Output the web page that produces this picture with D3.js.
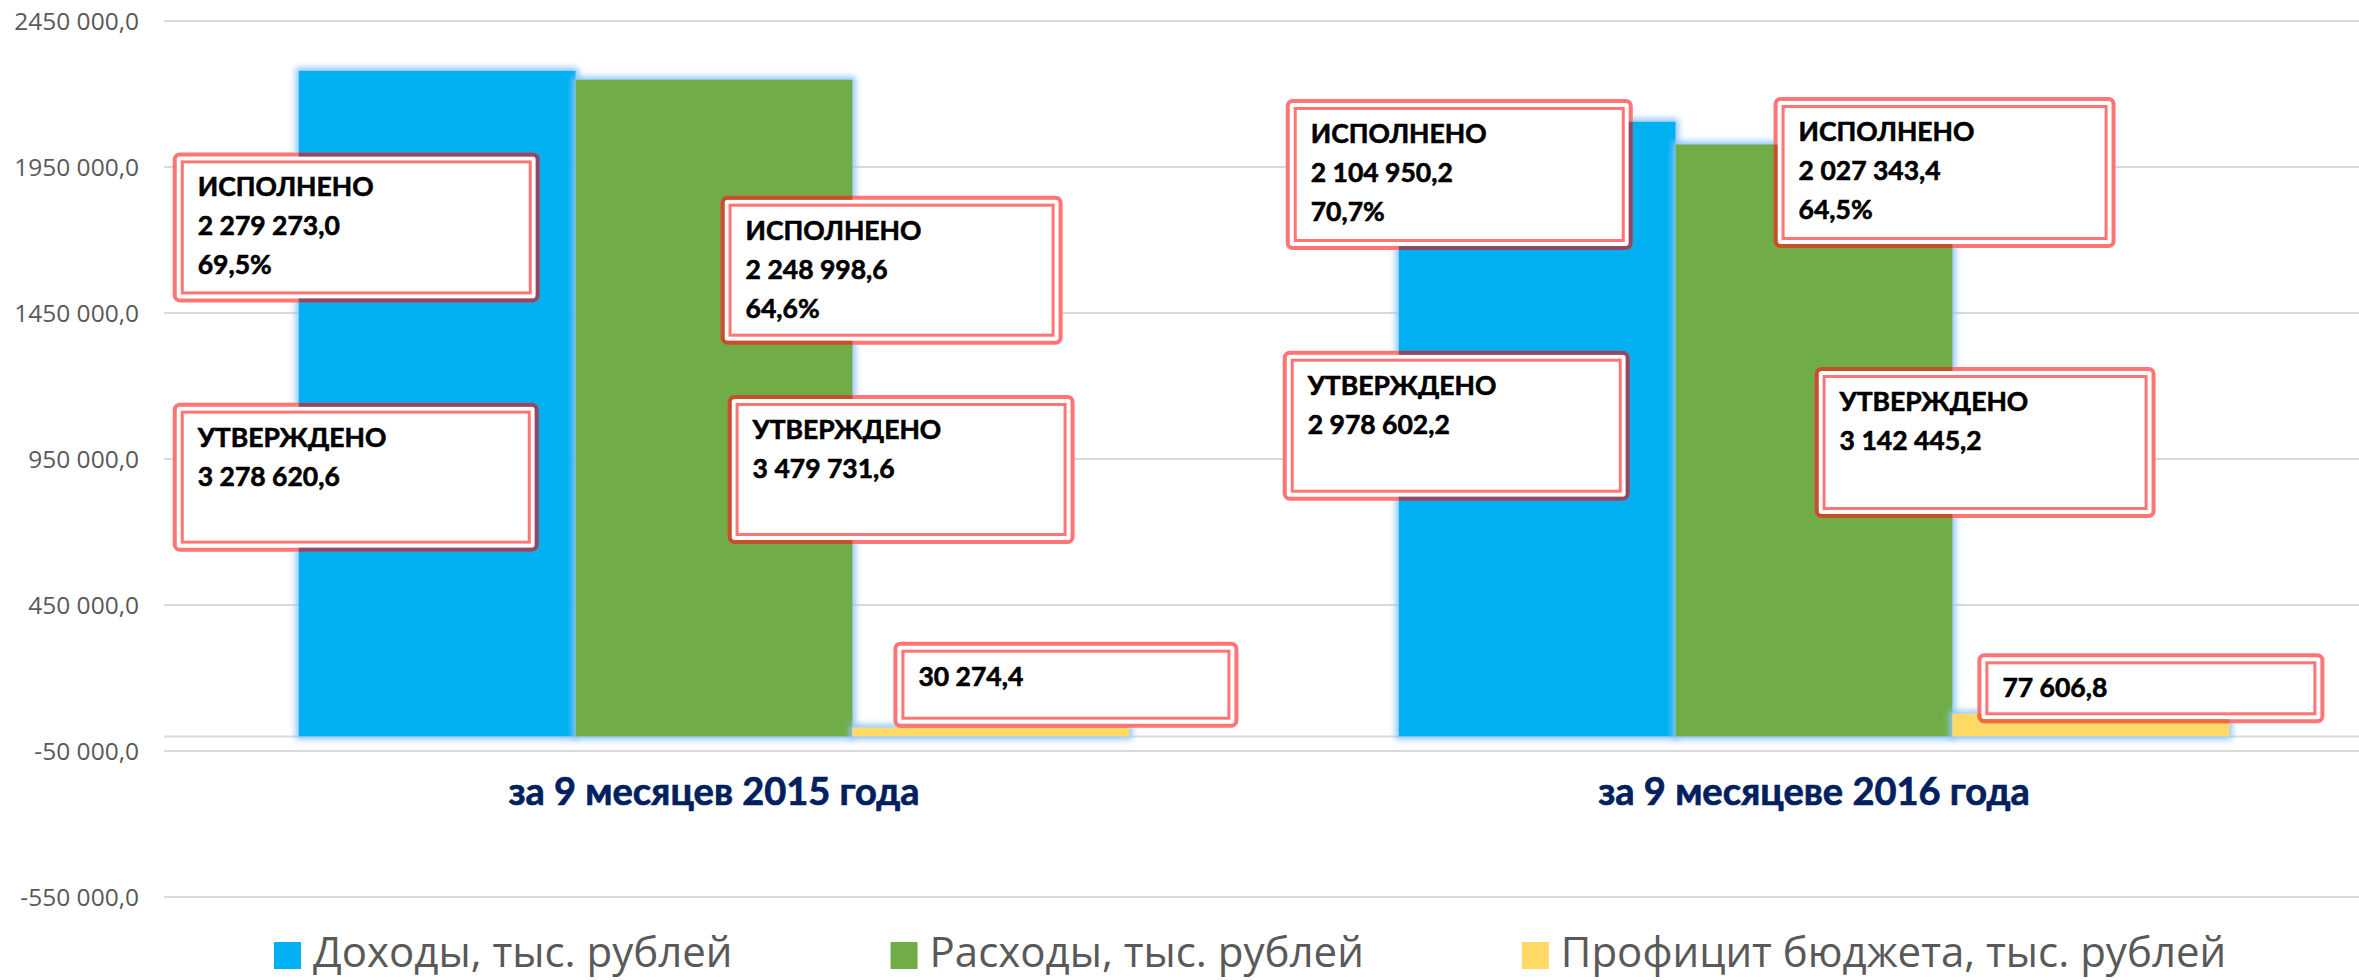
<!DOCTYPE html>
<html>
<head>
<meta charset="utf-8">
<script src="https://cdn.jsdelivr.net/npm/d3@7"></script>
<style>
  body { margin: 0; background: #fff; }
</style>
</head>
<body>
<svg id="chart"></svg>
<script>
// chart data
const categories = ["за 9 месяцев 2015 года", "за 9 месяцеве 2016 года"];
const seriesNames = ["Доходы, тыс. рублей", "Расходы, тыс. рублей", "Профицит бюджета, тыс. рублей"];
const income = [2279273.0, 2104950.2];
const expense = [2248998.6, 2027343.4];
const surplus = [30274.4, 77606.8];
const incomePlan = [3278620.6, 2978602.2];
const expensePlan = [3479731.6, 3142445.2];
const yTicks = [-550000, -50000, 450000, 950000, 1450000, 1950000, 2450000];

const WIDTH = 2359, HEIGHT = 980;
const colors = ["#00B0F0", "#70AD47", "#FFD966"];
const darkEdge = ["#8C4A6A", "#C4502C", "#F06A3A"];

// callout placement: series, category, kind, offset from bar left, top (in data units), size
const callouts = [
  { s: 0, c: 0, kind: "done", dx: -126, top: 2000000, w: 367, h: 150 },
  { s: 0, c: 0, kind: "plan", dx: -126, top: 1143000, w: 366, h: 149 },
  { s: 1, c: 0, kind: "done", dx: 145, top: 1851700, w: 342, h: 149 },
  { s: 1, c: 0, kind: "plan", dx: 152, top: 1169200, w: 347, h: 149 },
  { s: 2, c: 0, kind: "value", dx: 41, top: 324300, w: 345, h: 86 },
  { s: 0, c: 1, kind: "done", dx: -113, top: 2182900, w: 347, h: 151 },
  { s: 0, c: 1, kind: "plan", dx: -116, top: 1320900, w: 347, h: 150 },
  { s: 1, c: 1, kind: "done", dx: 98, top: 2189700, w: 342, h: 151 },
  { s: 1, c: 1, kind: "plan", dx: 139, top: 1265100, w: 341, h: 151 },
  { s: 2, c: 1, kind: "value", dx: 25, top: 284600, w: 347, h: 70 },
];

const ru = d3.formatLocale({ decimal: ",", thousands: " ", grouping: [3], currency: ["", ""] });
const fmtNum = ru.format(",.1f");
const fmtPct = ru.format(".1%");

const values = [income, expense, surplus];
const plans = [incomePlan, expensePlan, null];

const plot = { left: 164, right: 2364, top: 21, bottom: 897 };

const svg = d3.select("#chart").attr("width", WIDTH).attr("height", HEIGHT)
  .style("font-family", "'Open Sans', sans-serif");

svg.append("rect").attr("width", WIDTH).attr("height", HEIGHT).attr("fill", "#fff");

// glow under bars
const defs = svg.append("defs");
const glow = defs.append("filter").attr("id", "glow")
  .attr("filterUnits", "userSpaceOnUse")
  .attr("x", 0).attr("y", 0).attr("width", WIDTH).attr("height", HEIGHT);
glow.append("feMorphology").attr("in", "SourceAlpha").attr("operator", "dilate")
  .attr("radius", 3).attr("result", "d");
glow.append("feGaussianBlur").attr("in", "d").attr("stdDeviation", 3).attr("result", "b");
glow.append("feFlood").attr("flood-color", "#8cc6f8");
glow.append("feComposite").attr("in2", "b").attr("operator", "in").attr("result", "g");
const merge = glow.append("feMerge");
merge.append("feMergeNode").attr("in", "g");
merge.append("feMergeNode").attr("in", "SourceGraphic");

const y = d3.scaleLinear()
  .domain([d3.min(yTicks), d3.max(yTicks)])
  .range([plot.bottom, plot.top]);

const x0 = d3.scaleBand()
  .domain(categories)
  .range([plot.left, plot.right])
  .paddingInner(0.245)
  .paddingOuter(0.1225);

const x1 = d3.scaleBand()
  .domain(d3.range(seriesNames.length))
  .range([0, x0.bandwidth()]);

// gridlines
svg.append("g").selectAll("line")
  .data(yTicks.concat([0]))
  .join("line")
  .attr("x1", plot.left).attr("x2", WIDTH)
  .attr("y1", (d) => y(d)).attr("y2", (d) => y(d))
  .attr("stroke", "#D9D9D9").attr("stroke-width", 2);

// y axis labels
svg.append("g").selectAll("text")
  .data(yTicks)
  .join("text")
  .attr("x", 139).attr("y", (d) => y(d))
  .attr("dy", "0.35em")
  .attr("text-anchor", "end")
  .attr("font-size", 24.5)
  .attr("fill", "#595959")
  .text((d) => `${d / 1000} 000,0`);

// bars
const barData = [];
categories.forEach((cat, c) => {
  values.forEach((arr, s) => {
    barData.push({ c, s, cat, v: arr[c] });
  });
});
const barX = (d) => x0(categories[d.c]) + x1(d.s);

svg.append("g").selectAll("rect")
  .data(barData)
  .join("rect")
  .attr("x", barX)
  .attr("y", (d) => y(Math.max(0, d.v)))
  .attr("width", x1.bandwidth())
  .attr("height", (d) => Math.abs(y(d.v) - y(0)))
  .attr("fill", (d) => colors[d.s])
  .attr("filter", "url(#glow)");

// clip paths for each bar so the callout edge can darken over it
barData.forEach((d, i) => {
  defs.append("clipPath").attr("id", `bar-clip-${i}`)
    .append("rect")
    .attr("x", barX(d))
    .attr("y", y(Math.max(0, d.v)))
    .attr("width", x1.bandwidth())
    .attr("height", Math.abs(y(d.v) - y(0)));
});

// category labels
svg.append("g").selectAll("text")
  .data(categories)
  .join("text")
  .attr("x", (d) => x0(d) + x0.bandwidth() / 2)
  .attr("y", 805)
  .attr("text-anchor", "middle")
  .attr("font-family", "Lato, sans-serif")
  .attr("font-weight", "bold")
  .attr("font-size", 38)
  .attr("fill", "#002060")
  .attr("stroke", "#002060").attr("stroke-width", 0.7)
  .text((d) => d);

// callouts
const calloutG = svg.append("g");
callouts.forEach((b) => {
  const bx = x0(categories[b.c]) + x1(b.s) + b.dx;
  const by = y(b.top);
  const g = calloutG.append("g").attr("transform", `translate(${bx},${by})`);

  g.append("rect")
    .attr("x", 2).attr("y", 2)
    .attr("width", b.w - 4).attr("height", b.h - 4)
    .attr("rx", 5)
    .attr("fill", "#fff")
    .attr("stroke", "#FF7474").attr("stroke-width", 4);

  // darker outer edge where it sits on a bar
  barData.forEach((d, i) => {
    calloutG.append("rect")
      .attr("clip-path", `url(#bar-clip-${i})`)
      .attr("x", bx + 2).attr("y", by + 2)
      .attr("width", b.w - 4).attr("height", b.h - 4)
      .attr("rx", 5)
      .attr("fill", "none")
      .attr("stroke", darkEdge[d.s]).attr("stroke-width", 4);
  });

  g.append("rect")
    .attr("x", 9.5).attr("y", 9.5)
    .attr("width", b.w - 19).attr("height", b.h - 19)
    .attr("fill", "none")
    .attr("stroke", "#FF7474").attr("stroke-width", 3);

  let lines;
  if (b.kind === "done") {
    const v = values[b.s][b.c];
    lines = ["ИСПОЛНЕНО", fmtNum(v), fmtPct(v / plans[b.s][b.c])];
  } else if (b.kind === "plan") {
    lines = ["УТВЕРЖДЕНО", fmtNum(plans[b.s][b.c])];
  } else {
    lines = [fmtNum(values[b.s][b.c])];
  }

  g.selectAll("text")
    .data(lines)
    .join("text")
    .attr("x", 25)
    .attr("y", (d, i) => 44 + i * 39)
    .attr("font-family", "Lato, sans-serif")
    .attr("font-weight", "bold")
    .attr("font-size", 26.5)
    .attr("fill", "#000")
    .attr("stroke", "#000").attr("stroke-width", 0.6)
    .text((d) => d);
});

// legend
const legend = svg.append("g");
let lx = 274;
seriesNames.forEach((name, i) => {
  legend.append("rect")
    .attr("x", lx).attr("y", 942)
    .attr("width", 27).attr("height", 27)
    .attr("fill", colors[i]);
  const t = legend.append("text")
    .attr("x", lx + 39).attr("y", 967)
    .attr("font-size", 42)
    .attr("fill", "#595959")
    .text(name);
  lx += 39 + t.node().getComputedTextLength() + 158;
});
</script>
</body>
</html>
